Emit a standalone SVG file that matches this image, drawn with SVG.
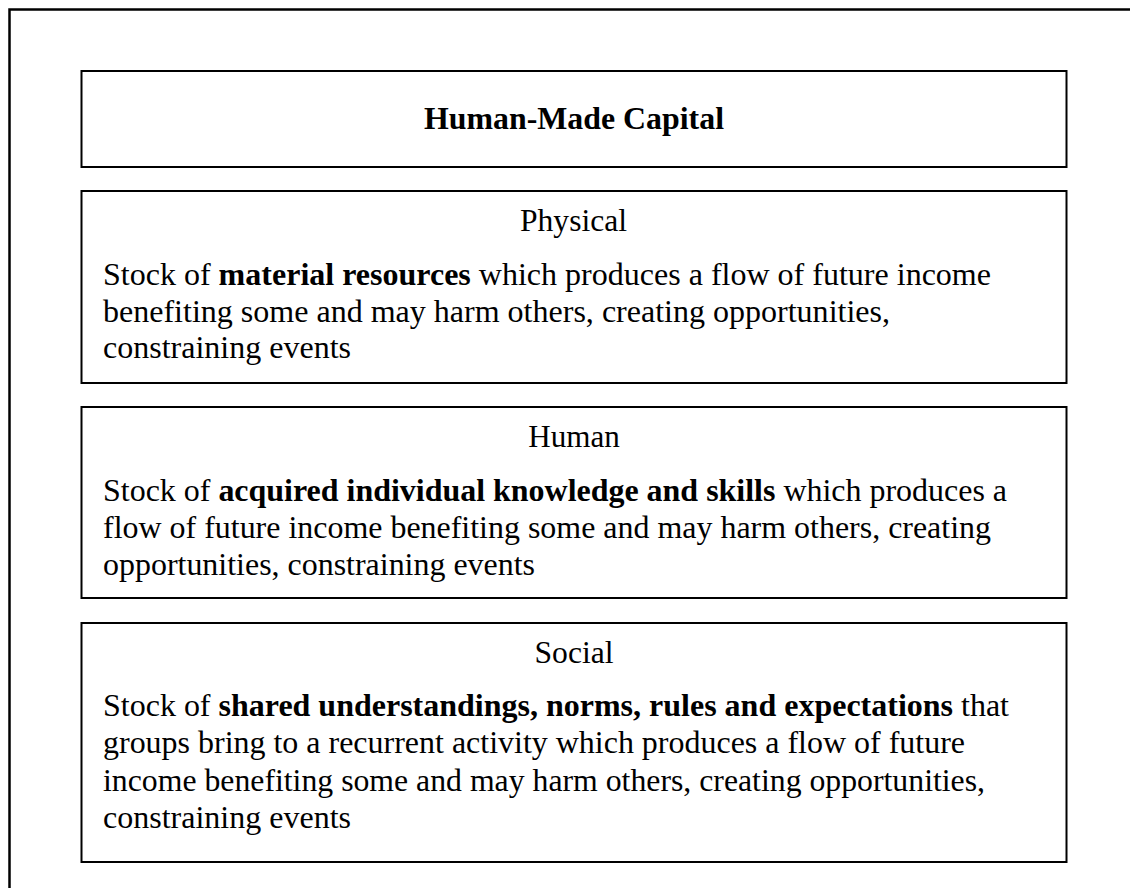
<svg xmlns="http://www.w3.org/2000/svg" width="1130" height="888" viewBox="0 0 1130 888">
<style>
.frame{fill:none;stroke:#000;stroke-width:2.5}
.box{fill:#fff;stroke:#000;stroke-width:2}
.t{font-family:'Liberation Serif', 'Times New Roman', serif;font-size:32px;fill:#000}
.c{text-anchor:middle}
.b{font-weight:bold}
</style>
<rect width="1130" height="888" fill="#fff"/>
<rect class="frame" x="9.5" y="9.5" width="1200" height="1000"/>
<g id="connectors"></g>
<g id="node-capital">
<rect class="box" x="81.5" y="71" width="985" height="96"/>
<text class="t c b" font-family="Liberation Serif" x="574" y="129" textLength="300" lengthAdjust="spacingAndGlyphs">Human-Made Capital</text>
</g>
<g id="node-physical">
<rect class="box" x="81.5" y="191" width="985" height="192"/>
<text class="t c" font-family="Liberation Serif" x="573.5" y="231" textLength="107" lengthAdjust="spacingAndGlyphs">Physical</text>
<text class="t" font-family="Liberation Serif" x="103" y="285" textLength="888" lengthAdjust="spacingAndGlyphs">Stock of <tspan class="b">material resources</tspan> which produces a flow of future income</text>
<text class="t" font-family="Liberation Serif" x="103" y="321.5" textLength="787" lengthAdjust="spacingAndGlyphs">benefiting some and may harm others, creating opportunities,</text>
<text class="t" font-family="Liberation Serif" x="103" y="358" textLength="248" lengthAdjust="spacingAndGlyphs">constraining events</text>
</g>
<g id="node-human">
<rect class="box" x="81.5" y="407" width="985" height="191"/>
<text class="t c" font-family="Liberation Serif" x="574" y="447" textLength="91.5" lengthAdjust="spacingAndGlyphs">Human</text>
<text class="t" font-family="Liberation Serif" x="103" y="500.5" textLength="904" lengthAdjust="spacingAndGlyphs">Stock of <tspan class="b">acquired individual knowledge and skills</tspan> which produces a</text>
<text class="t" font-family="Liberation Serif" x="103" y="537.5" textLength="888" lengthAdjust="spacingAndGlyphs">flow of future income benefiting some and may harm others, creating</text>
<text class="t" font-family="Liberation Serif" x="103" y="574.5" textLength="432" lengthAdjust="spacingAndGlyphs">opportunities, constraining events</text>
</g>
<g id="node-social">
<rect class="box" x="81.5" y="623" width="985" height="239"/>
<text class="t c" font-family="Liberation Serif" x="574" y="662.5" textLength="79" lengthAdjust="spacingAndGlyphs">Social</text>
<text class="t" font-family="Liberation Serif" x="103" y="716" textLength="906" lengthAdjust="spacingAndGlyphs">Stock of <tspan class="b">shared understandings, norms, rules and expectations</tspan> that</text>
<text class="t" font-family="Liberation Serif" x="103" y="753" textLength="862" lengthAdjust="spacingAndGlyphs">groups bring to a recurrent activity which produces a flow of future</text>
<text class="t" font-family="Liberation Serif" x="103" y="790.5" textLength="882" lengthAdjust="spacingAndGlyphs">income benefiting some and may harm others, creating opportunities,</text>
<text class="t" font-family="Liberation Serif" x="103" y="828" textLength="248" lengthAdjust="spacingAndGlyphs">constraining events</text>
</g>
</svg>
